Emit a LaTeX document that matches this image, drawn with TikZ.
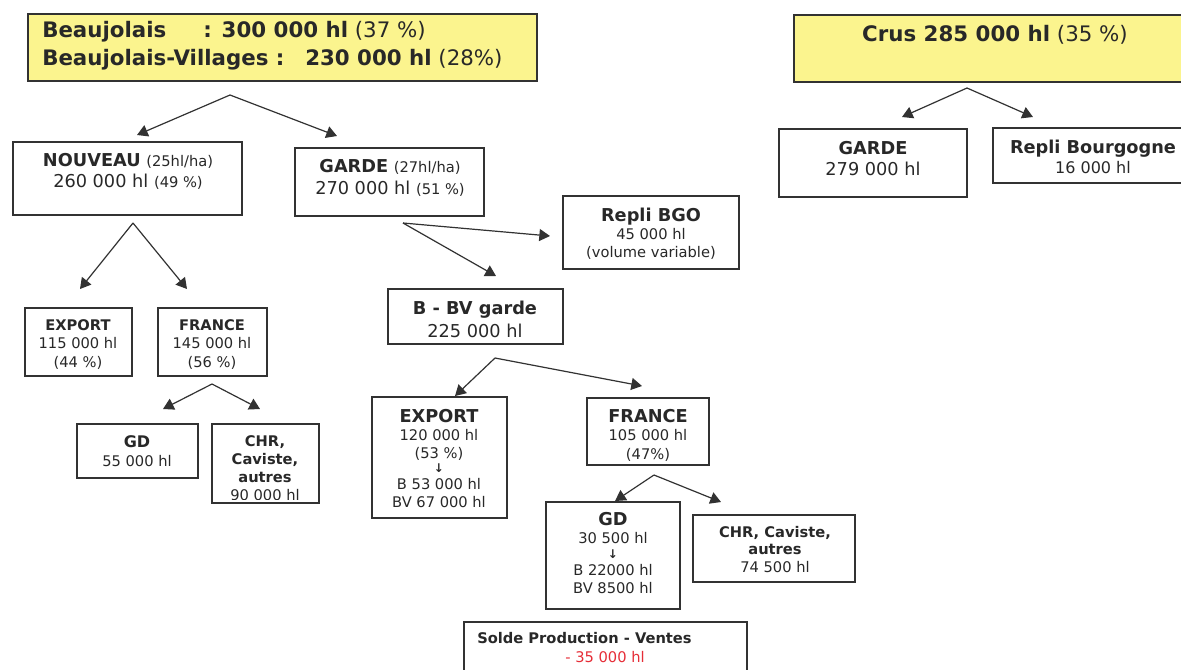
\documentclass[tikz,border=0pt]{standalone}
\usepackage{fontspec}
\setmainfont{DejaVu Sans}
\usetikzlibrary{fit,arrows.meta}
\definecolor{yel}{RGB}{251,244,142}
\definecolor{linec}{RGB}{50,50,50}
\definecolor{txtc}{RGB}{40,40,40}
\definecolor{redc}{RGB}{230,45,55}
\newcommand{\ftop}{\fontsize{16}{19}\selectfont}
\newcommand{\fmid}{\fontsize{13.3}{16}\selectfont}
\newcommand{\fsm}{\fontsize{11}{13}\selectfont}
\newcommand{\fsmm}{\fontsize{12}{14}\selectfont}
\begin{document}
\begin{tikzpicture}[x=0.75pt,y=-0.75pt,
  bx/.style={draw=linec, line width=0.9pt, inner sep=0pt},
  ybx/.style={bx, fill=yel},
  arr/.style={draw=linec, line width=0.9pt, -{Triangle[length=8pt,width=9pt]}},
  tl/.style={anchor=base, inner sep=0pt, text=txtc},
  top/.style={tl, font=\ftop},
  mid/.style={tl, font=\fmid},
  sm/.style={tl, font=\fsm},
  dn/.style={tl, font=\fontsize{9}{11}\selectfont\bfseries}]
\useasboundingbox (0,0) rectangle (1181,669);
\clip (0,0) rectangle (1181,669);
\fill[white] (0,0) rectangle (1181,669);

% ---- top boxes
\node[ybx, fit={(28,14) (537,81)}] (yl) {};
\node[top, anchor=base west] (yl1a) at (42,37) {\bfseries Beaujolais};
\node[top, anchor=base west] (yl1b) at (203,37) {{\bfseries : 300 000 hl} (37 \%)};
\node[top, anchor=base west] (yl2a) at (42,65) {\bfseries Beaujolais-Villages :};
\node[top, anchor=base west] (yl2b) at (305,65) {{\bfseries 230 000 hl} (28\%)};

\node[ybx, fit={(794,15) (1200,82)}] (yr) {};
\node[top] (yr1) at (995,41) {{\bfseries Crus 285 000 hl} (35 \%)};

% ---- second level
\node[bx, fit={(13,142) (242,215)}] (nouv) {};
\node[mid] (nouv1) at (128,166) {{\bfseries NOUVEAU} {\fsm (25hl/ha)}};
\node[mid] (nouv2) at (128,187) {260 000 hl {\fsm (49 \%)}};

\node[bx, fit={(295,148) (484,216)}] (garde) {};
\node[mid] (garde1) at (390,172) {{\bfseries GARDE} {\fsm (27hl/ha)}};
\node[mid] (garde2) at (390,194) {270 000 hl {\fsm (51 \%)}};

\node[bx, fit={(779,129) (967,197)}] (cg) {};
\node[mid] (cg1) at (873,154) {\bfseries GARDE};
\node[mid] (cg2) at (873,175) {279 000 hl};

\node[bx, fit={(993,128) (1193,183)}] (rb) {};
\node[mid] (rb1) at (1093,153) {\bfseries Repli Bourgogne};
\node[tl, font=\fsmm] (rb2) at (1093,173) {16 000 hl};

% ---- GARDE branch
\node[bx, fit={(563,196) (739,269)}] (bgo) {};
\node[mid] (bgo1) at (651,221) {\bfseries Repli BGO};
\node[sm] (bgo2) at (651,239) {45 000 hl};
\node[sm] (bgo3) at (651,257) {(volume variable)};

\node[bx, fit={(388,289) (563,344)}] (bbv) {};
\node[mid] (bbv1) at (475,314) {\bfseries B - BV garde};
\node[mid] (bbv2) at (475,337) {225 000 hl};

% ---- NOUVEAU branch
\node[bx, fit={(25,308) (132,376)}] (exl) {};
\node[sm] (exl1) at (78,330) {\bfseries EXPORT};
\node[sm] (exl2) at (78,348) {115 000 hl};
\node[sm] (exl3) at (78,367) {(44 \%)};

\node[bx, fit={(158,308) (267,376)}] (frl) {};
\node[sm] (frl1) at (212,330) {\bfseries FRANCE};
\node[sm] (frl2) at (212,348) {145 000 hl};
\node[sm] (frl3) at (212,367) {(56 \%)};

\node[bx, fit={(77,424) (198,478)}] (gdl) {};
\node[tl, font=\fsmm] (gdl1) at (137,447) {\bfseries GD};
\node[sm] (gdl2) at (137,466) {55 000 hl};

\node[bx, fit={(212,424) (319,503)}] (chl) {};
\node[sm] (chl1) at (265,446) {\bfseries CHR,};
\node[sm] (chl2) at (265,464) {\bfseries Caviste,};
\node[sm] (chl3) at (265,482) {\bfseries autres};
\begin{scope}
\clip (212,424) rectangle (319,499);
\node[sm] (chl4) at (265,500) {90 000 hl};
\end{scope}

% ---- B-BV branch
\node[bx, fit={(372,397) (507,518)}] (exr) {};
\node[mid] (exr1) at (439,422) {\bfseries EXPORT};
\node[sm] (exr2) at (439,440) {120 000 hl};
\node[sm] (exr3) at (439,458) {(53 \%)};
\node[dn] (exr4) at (439,472) {↓};
\node[sm] (exr5) at (439,489) {B 53 000 hl};
\node[sm] (exr6) at (439,507) {BV 67 000 hl};

\node[bx, fit={(587,398) (709,465)}] (frr) {};
\node[mid] (frr1) at (648,422) {\bfseries FRANCE};
\node[sm] (frr2) at (648,440) {105 000 hl};
\begin{scope}
\clip (587,398) rectangle (709,460);
\node[sm] (frr3) at (648,459) {(47\%)};
\end{scope}

\node[bx, fit={(546,502) (680,609)}] (gdr) {};
\node[mid] (gdr1) at (613,525) {\bfseries GD};
\node[sm] (gdr2) at (613,543) {30 500 hl};
\node[dn] (gdr3) at (613,558) {↓};
\node[sm] (gdr4) at (613,575) {B 22000 hl};
\node[sm] (gdr5) at (613,593) {BV 8500 hl};

\node[bx, fit={(693,515) (855,582)}] (chr) {};
\node[sm] (chr1) at (775,537) {\bfseries CHR, Caviste,};
\node[sm] (chr2) at (775,554) {\bfseries autres};
\node[sm] (chr3) at (775,572) {74 500 hl};

% ---- solde
\node[bx, line width=1.6pt, fit={(464,622) (747,700)}] (solde) {};
\node[sm, anchor=base west] (solde1) at (477,643) {\bfseries Solde Production - Ventes};
\node[sm, text=redc] (solde2) at (605,662) {- 35 000 hl};

% ---- connectors
\coordinate (a1) at (230,95);  \coordinate (a1l) at (137,135); \coordinate (a1r) at (337,136);
\coordinate (a2) at (967,88);  \coordinate (a2l) at (902,117); \coordinate (a2r) at (1033,117);
\coordinate (a3) at (133,223); \coordinate (a3l) at (80,289);  \coordinate (a3r) at (187,289);
\coordinate (a4) at (212,384); \coordinate (a4l) at (163,409); \coordinate (a4r) at (260,409);
\coordinate (a5) at (403,223); \coordinate (a5r) at (550,236); \coordinate (a5d) at (496,276);
\coordinate (a6) at (495,358); \coordinate (a6l) at (455,396); \coordinate (a6r) at (642,386);
\coordinate (a7) at (654,475); \coordinate (a7l) at (615,501); \coordinate (a7r) at (721,502);

\draw[arr] (a1) -- (a1l);
\draw[arr] (a1) -- (a1r);
\draw[arr] (a2) -- (a2l);
\draw[arr] (a2) -- (a2r);
\draw[arr] (a3) -- (a3l);
\draw[arr] (a3) -- (a3r);
\draw[arr] (a4) -- (a4l);
\draw[arr] (a4) -- (a4r);
\draw[arr] (a5) -- (a5r);
\draw[arr] (a5) -- (a5d);
\draw[arr] (a6) -- (a6l);
\draw[arr] (a6) -- (a6r);
\draw[arr] (a7) -- (a7l);
\draw[arr] (a7) -- (a7r);
\end{tikzpicture}
\end{document}
